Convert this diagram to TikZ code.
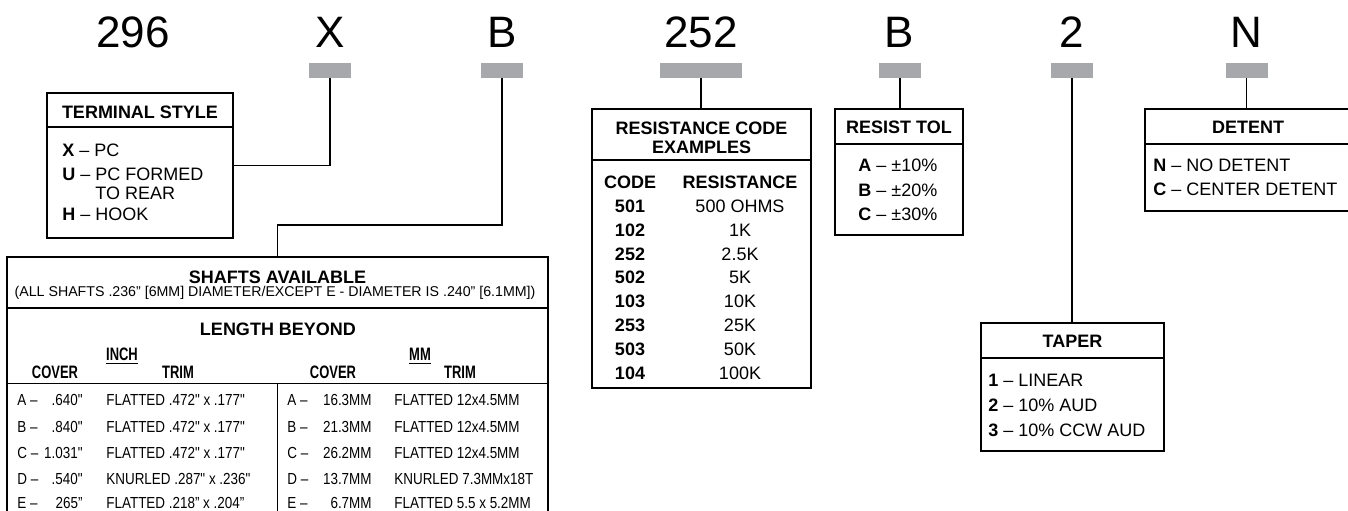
\documentclass[tikz,border=0pt]{standalone}
\usepackage{fontspec}
\setmainfont{Liberation Sans}
\newfontfamily\cond[FakeStretch=0.84]{Liberation Sans}
\newfontfamily\condb[FakeStretch=0.72]{Liberation Sans}
\usepackage{tikz}
\definecolor{tabgray}{RGB}{167,168,171}

\tikzset{
    frame/.style={draw, line width=1pt, inner sep=0pt},
    tab/.style={fill=tabgray, inner sep=0pt, minimum width=21pt, minimum height=7.5pt},
    wire/.style={line width=0.75pt},
    sep/.style={line width=0.75pt},
    big/.style={inner sep=0pt, font=\fontsize{22}{24}\selectfont, text height=15.8pt, text depth=0pt},
    txt/.style={inner sep=0pt, font=\fontsize{9}{10}\selectfont, text height=6.45pt, text depth=0pt},
    hd/.style={txt, font=\bfseries\fontsize{9}{10}\selectfont},
    note/.style={inner sep=0pt, font=\fontsize{7.1}{8}\selectfont, text height=5.1pt, text depth=0pt},
    row/.style={inner sep=0pt, font=\cond\fontsize{8}{9}\selectfont, text height=5.7pt, text depth=0pt},
    colhd/.style={inner sep=0pt, font=\condb\bfseries\fontsize{9}{10}\selectfont, text height=6.45pt, text depth=0pt}
}

\begin{document}
\begin{tikzpicture}[x=0.5pt, y=-0.5pt]
    \fill[white] (0,0) rectangle (1348,510);
    \useasboundingbox (0,0) rectangle (1348,510);

    % part number
    \node[big] at (133,31.5) (dSer) {296};
    \node[big] at (330,31.5) (dTerm) {X};
    \node[big] at (502,31.5) (dShaft) {B};
    \node[big] at (701,31.5) (dRes) {252};
    \node[big] at (899,31.5) (dTol) {B};
    \node[big] at (1072,31.5) (dTaper) {2};
    \node[big] at (1246.5,31.5) (dDet) {N};

    \node[tab] at (330,70.5) (tX) {};
    \node[tab] at (502,70.5) (tB) {};
    \node[tab, minimum width=41pt] at (701,70.5) (tR) {};
    \node[tab] at (900,70.5) (tT) {};
    \node[tab] at (1072,70.5) (tP) {};
    \node[tab] at (1246.5,70.5) (tN) {};

    % terminal style
    \node[frame, minimum width=93pt, minimum height=72.5pt] at (140,165.5) (term) {};
    \draw[sep] (term.west |- 0,127) -- (term.east |- 0,127);
    \node[hd] at (140,112) (termT) {TERMINAL STYLE};
    \node[txt, anchor=west] at (62,150) (termX) {\textbf{X} – PC};
    \node[txt, anchor=west] at (62,174) (termU) {\textbf{U} – PC FORMED};
    \node[txt, anchor=west] at (95,193) (termU2) {TO REAR};
    \node[txt, anchor=west] at (62,214) (termH) {\textbf{H} – HOOK};
    \draw[wire] (tX.south) |- (term.east);

    % shafts
    \node[frame, minimum width=270.5pt, minimum height=151.5pt] at (277.5,408.5) (shaft) {};
    \coordinate (kB) at (502,225);
    \draw[wire] (tB.south) -- (kB) -| (shaft.north);
    \draw[line width=1.2pt] (shaft.west |- 0,308) -- (shaft.east |- 0,308);
    \draw[line width=0.5pt] (shaft.west |- 0,383) -- (shaft.east |- 0,383);
    \draw[line width=0.5pt] (277.5,383) -- (shaft.south);
    \node[hd] at (277.5,277) (shT) {SHAFTS AVAILABLE};
    \node[note] at (275,291) (shN) {(ALL SHAFTS .236" [6MM] DIAMETER/EXCEPT E - DIAMETER IS .240" [6.1MM])};
    \node[hd] at (278,329) (shL) {LENGTH BEYOND};
    \node[colhd] at (122,354) (shIn) {\underline{INCH}};
    \node[colhd] at (420,354) (shMm) {\underline{MM}};
    \node[colhd] at (55,372) (shC1) {COVER};
    \node[colhd] at (178,372) (shT1) {TRIM};
    \node[colhd] at (333,372) (shC2) {COVER};
    \node[colhd] at (460,372) (shT2) {TRIM};

    \node[row, anchor=west] at (17,400) (aL) {A –};
    \node[row, anchor=east] at (83,400) (aLv) {.640"};
    \node[row, anchor=west] at (106,400) (aLt) {FLATTED .472" x .177"};
    \node[row, anchor=west] at (287,400) (aR) {A –};
    \node[row, anchor=east] at (372,400) (aRv) {16.3MM};
    \node[row, anchor=west] at (394,400) (aRt) {FLATTED 12x4.5MM};

    \node[row, anchor=west] at (17,426.5) (bL) {B –};
    \node[row, anchor=east] at (83,426.5) (bLv) {.840"};
    \node[row, anchor=west] at (106,426.5) (bLt) {FLATTED .472" x .177"};
    \node[row, anchor=west] at (287,426.5) (bR) {B –};
    \node[row, anchor=east] at (372,426.5) (bRv) {21.3MM};
    \node[row, anchor=west] at (394,426.5) (bRt) {FLATTED 12x4.5MM};

    \node[row, anchor=west] at (17,453) (cL) {C –};
    \node[row, anchor=east] at (83,453) (cLv) {1.031"};
    \node[row, anchor=west] at (106,453) (cLt) {FLATTED .472" x .177"};
    \node[row, anchor=west] at (287,453) (cR) {C –};
    \node[row, anchor=east] at (372,453) (cRv) {26.2MM};
    \node[row, anchor=west] at (394,453) (cRt) {FLATTED 12x4.5MM};

    \node[row, anchor=west] at (17,479) (dL) {D –};
    \node[row, anchor=east] at (83,479) (dLv) {.540"};
    \node[row, anchor=west] at (106,479) (dLt) {KNURLED .287" x .236"};
    \node[row, anchor=west] at (287,479) (dR) {D –};
    \node[row, anchor=east] at (372,479) (dRv) {13.7MM};
    \node[row, anchor=west] at (394,479) (dRt) {KNURLED 7.3MMx18T};

    \node[row, anchor=west] at (17,503) (eL) {E –};
    \node[row, anchor=east] at (83,503) (eLv) {265”};
    \node[row, anchor=west] at (106,503) (eLt) {FLATTED .218” x .204”};
    \node[row, anchor=west] at (287,503) (eR) {E –};
    \node[row, anchor=east] at (372,503) (eRv) {6.7MM};
    \node[row, anchor=west] at (394,503) (eRt) {FLATTED 5.5 x 5.2MM};

    % resistance codes
    \node[frame, minimum width=109.5pt, minimum height=139.5pt] at (701.5,248.5) (res) {};
    \draw[wire] (tR.south) -- (tR.south |- res.north);
    \draw[sep] (res.west |- 0,160) -- (res.east |- 0,160);
    \node[hd] at (701.5,128) (resT1) {RESISTANCE CODE};
    \node[hd] at (701.5,147) (resT2) {EXAMPLES};
    \node[hd] at (630,182) (resC) {CODE};
    \node[hd] at (740,182) (resR) {RESISTANCE};
    \node[hd] at (630,206) (c501) {501};
    \node[txt] at (740,206) (r501) {500 OHMS};
    \node[hd] at (630,230) (c102) {102};
    \node[txt] at (740,230) (r102) {1K};
    \node[hd] at (630,254) (c252) {252};
    \node[txt] at (740,254) (r252) {2.5K};
    \node[hd] at (630,277.5) (c502) {502};
    \node[txt] at (740,277.5) (r502) {5K};
    \node[hd] at (630,301.5) (c103) {103};
    \node[txt] at (740,301.5) (r103) {10K};
    \node[hd] at (630,325.5) (c253) {253};
    \node[txt] at (740,325.5) (r253) {25K};
    \node[hd] at (630,349) (c503) {503};
    \node[txt] at (740,349) (r503) {50K};
    \node[hd] at (630,373) (c104) {104};
    \node[txt] at (740,373) (r104) {100K};

    % tolerance
    \node[frame, minimum width=64pt, minimum height=63pt] at (899,172) (tol) {};
    \draw[wire] (tT.south) -- (tT.south |- tol.north);
    \draw[sep] (tol.west |- 0,144) -- (tol.east |- 0,144);
    \node[hd] at (899,127) (tolT) {RESIST TOL};
    \node[txt, anchor=west] at (858,165) (tolA) {\textbf{A} – ±10\%};
    \node[txt, anchor=west] at (858,190) (tolB) {\textbf{B} – ±20\%};
    \node[txt, anchor=west] at (858,214) (tolC) {\textbf{C} – ±30\%};

    % taper
    \node[frame, minimum width=91.5pt, minimum height=64pt] at (1072.5,387) (taper) {};
    \draw[wire] (tP.south) -- (tP.south |- taper.north);
    \draw[sep] (taper.west |- 0,358) -- (taper.east |- 0,358);
    \node[hd] at (1072.5,341) (tapT) {TAPER};
    \node[txt, anchor=west] at (988,380) (tap1) {\textbf{1} – LINEAR};
    \node[txt, anchor=west] at (988,405) (tap2) {\textbf{2} – 10\% AUD};
    \node[txt, anchor=west] at (988,430) (tap3) {\textbf{3} – 10\% CCW AUD};

    % detent
    \node[frame, minimum width=103.5pt, minimum height=51pt] at (1248.5,160) (det) {};
    \draw[wire] (tN.south) -- (tN.south |- det.north);
    \draw[sep] (det.west |- 0,144) -- (det.east |- 0,144);
    \node[hd] at (1248,127) (detT) {DETENT};
    \node[txt, anchor=west] at (1153,165) (detN) {\textbf{N} – NO DETENT};
    \node[txt, anchor=west] at (1153,189) (detC) {\textbf{C} – CENTER DETENT};
\end{tikzpicture}
\end{document}
